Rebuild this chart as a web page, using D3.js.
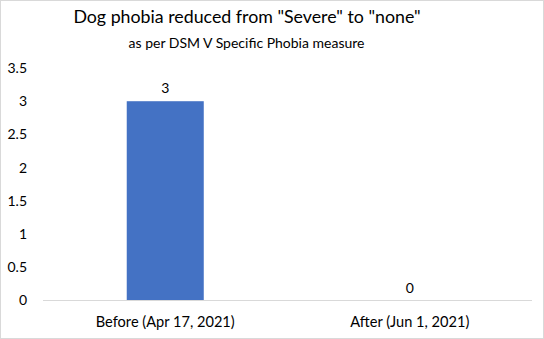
<!DOCTYPE html>
<html><head><meta charset="utf-8">
<script src="https://cdn.jsdelivr.net/npm/d3@7"></script>
<style>body{margin:0;background:#fff}svg{display:block}text{font-family:Lato,"Open Sans",sans-serif;fill:#000}</style>
</head><body>
<script>
const categories = ["Before (Apr 17, 2021)", "After (Jun 1, 2021)"];
const values = [3, 0];
const yTicks = [0, 0.5, 1, 1.5, 2, 2.5, 3, 3.5];
const title = "Dog phobia reduced from \"Severe\" to \"none\"";
const subtitle = "as per DSM V Specific Phobia measure";

const W = 544, H = 339;
const svg = d3.select("body").append("svg").attr("width", W).attr("height", H);
svg.append("rect").attr("x", 0.5).attr("y", 0.5).attr("width", W - 1).attr("height", H - 1)
  .attr("fill", "#fff").attr("stroke", "#d9d9d9");

const x = d3.scaleBand().domain(categories).range([43, 532]).paddingInner(0.685).paddingOuter(0.3425);
const y = d3.scaleLinear().domain([0, 3.5]).range([300.5, 68]);

svg.append("text").attr("x", 247).attr("y", 23).attr("text-anchor", "middle")
  .style("font-size", "17.8px").text(title);
svg.append("text").attr("x", 246.5).attr("y", 48).attr("text-anchor", "middle")
  .style("font-size", "14px").text(subtitle);

const yAxis = svg.append("g").attr("transform", "translate(33,0)")
  .call(d3.axisLeft(y).tickValues(yTicks).tickSize(0).tickPadding(6).tickFormat(d3.format("")));
yAxis.select(".domain").remove();
yAxis.selectAll("text").style("font-size", "14px").style("font-family", "Lato, sans-serif");

svg.selectAll("rect.bar").data(values).join("rect").attr("class", "bar")
  .attr("x", (d, i) => x(categories[i])).attr("width", x.bandwidth())
  .attr("y", d => y(d)).attr("height", d => y(0) - y(d)).attr("fill", "#4472C4");

svg.append("line").attr("x1", 43).attr("x2", 532).attr("y1", y(0)).attr("y2", y(0))
  .attr("stroke", "#d9d9d9").attr("stroke-width", 1);

svg.selectAll("text.val").data(values).join("text").attr("class", "val")
  .attr("x", (d, i) => x(categories[i]) + x.bandwidth() / 2).attr("y", d => y(d) - 8)
  .attr("text-anchor", "middle").style("font-size", "14px").text(d => d);

const xAxis = svg.append("g").attr("transform", `translate(0,${y(0)})`)
  .call(d3.axisBottom(x).tickSize(0).tickPadding(16));
xAxis.select(".domain").remove();
xAxis.selectAll("text").style("font-size", "14.6px").style("font-family", "Lato, sans-serif");
</script>
</body></html>
